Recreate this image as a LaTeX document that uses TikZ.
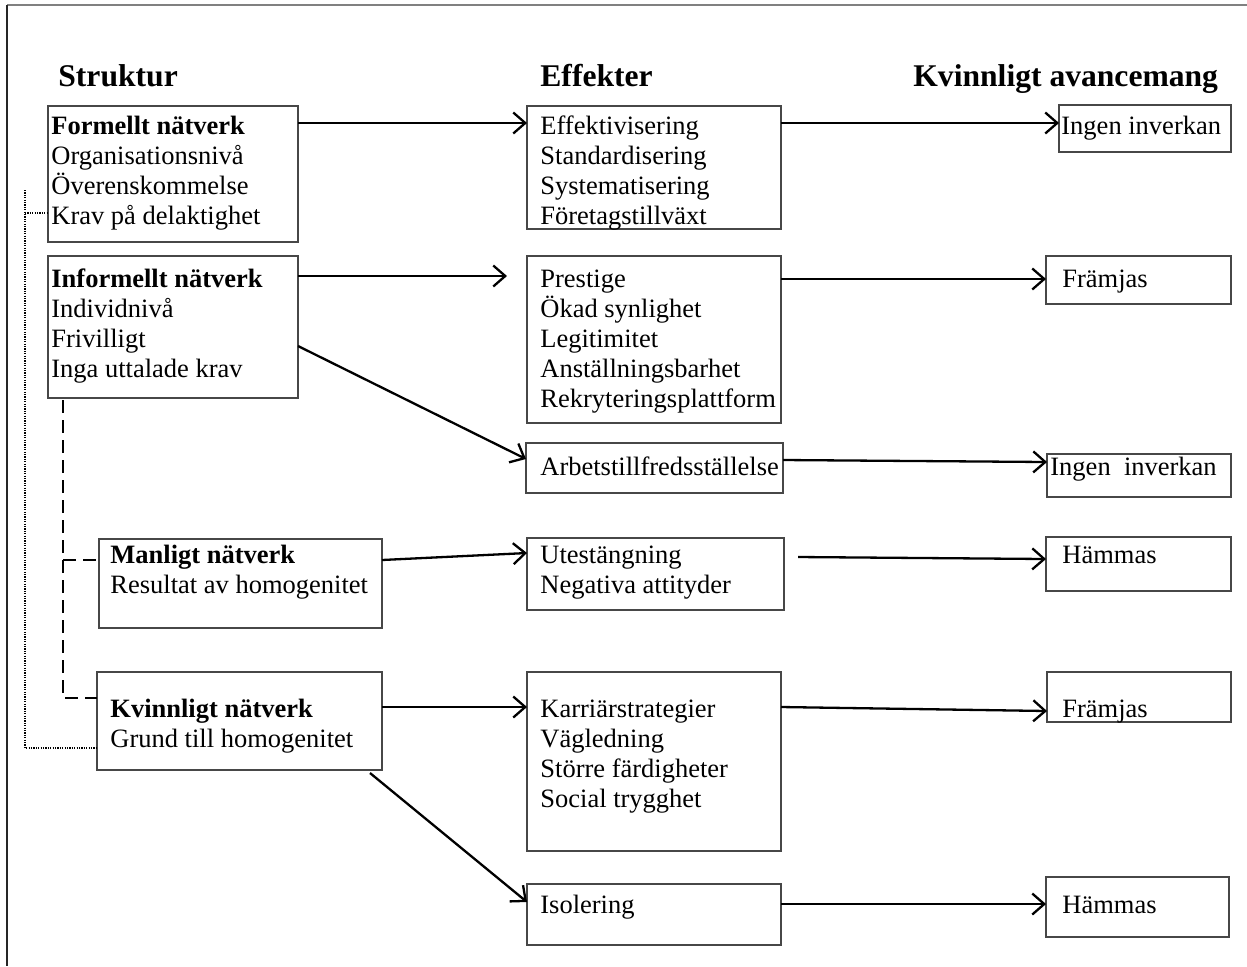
\documentclass[tikz,border=0pt]{standalone}
\usepackage{fontspec}
\setmainfont{Liberation Serif}
\usetikzlibrary{arrows.meta,fit,calc}

\begin{document}
\begin{tikzpicture}[x=0.5pt,y=-0.5pt,
  box/.style={draw=black!72, line width=0.65pt, inner sep=0pt, outer sep=0pt},
  txt/.style={inner sep=0pt, anchor=base west, font=\fontsize{13.25}{15}\selectfont},
  head/.style={inner sep=0pt, anchor=base west, font=\fontsize{15.8}{18}\selectfont\bfseries},
  arr/.style={line width=1.15pt, -{Straight Barb[length=6pt,width=10.5pt]}},
  dashlink/.style={line width=0.75pt, dash pattern=on 6.5pt off 3.5pt},
  dotlink/.style={line width=0.6pt, dash pattern=on 0.6pt off 0.6pt},
]
\useasboundingbox (0,0) rectangle (1247,966);

% open frame along the top and left
\draw[black!50, line width=0.8pt] (7,5) -- (1247,5);
\draw[black!85, line width=0.8pt] (7,5) -- (7,966);

% column headings
\node[head] (hStr) at (58,86) {Struktur};
\node[head] (hEff) at (540,86) {Effekter};
\node[head] (hKva) at (913,86) {Kvinnligt avancemang};

% structure boxes
\node[box, fit={(48,106) (298,242)}] (formellt) {};
\node[box, fit={(48,256) (298,398)}] (informellt) {};
\node[box, fit={(99,539) (382,628)}] (manligt) {};
\node[box, fit={(97,672) (382,770)}] (kvinnligt) {};

% effect boxes
\node[box, fit={(527,106) (781,229)}] (eff) {};
\node[box, fit={(527,256) (781,423)}] (prestige) {};
\node[box, fit={(526,443) (783,493)}] (arbets) {};
\node[box, fit={(527,538) (784,610)}] (utest) {};
\node[box, fit={(527,672) (781,851)}] (karriar) {};
\node[box, fit={(527,884) (781,945)}] (isolering) {};

% outcome boxes
\node[box, fit={(1059,105) (1231,152)}] (ingenA) {};
\node[box, fit={(1046,256) (1231,304)}] (framjasA) {};
\node[box, fit={(1047,454) (1231,497)}] (ingenB) {};
\node[box, fit={(1046,537) (1231,591)}] (hammasA) {};
\node[box, fit={(1047,672) (1231,722)}] (framjasB) {};
\node[box, fit={(1046,877) (1229,937)}] (hammasB) {};

% box texts
\node[txt] (tFormellt) at (51,134) {\begin{tabular}[t]{@{}l@{}}\textbf{Formellt nätverk}\\Organisationsnivå\\Överenskommelse\\Krav på delaktighet\end{tabular}};
\node[txt] (tInformellt) at (51,287) {\begin{tabular}[t]{@{}l@{}}\textbf{Informellt nätverk}\\Individnivå\\Frivilligt\\Inga uttalade krav\end{tabular}};
\node[txt] (tManligt) at (110,563) {\begin{tabular}[t]{@{}l@{}}\textbf{Manligt nätverk}\\Resultat av homogenitet\end{tabular}};
\node[txt] (tKvinnligt) at (110,717) {\begin{tabular}[t]{@{}l@{}}\textbf{Kvinnligt nätverk}\\Grund till homogenitet\end{tabular}};

\node[txt] (tEff) at (540,134) {\begin{tabular}[t]{@{}l@{}}Effektivisering\\Standardisering\\Systematisering\\Företagstillväxt\end{tabular}};
\node[txt] (tPrestige) at (540,287) {\begin{tabular}[t]{@{}l@{}}Prestige\\Ökad synlighet\\Legitimitet\\Anställningsbarhet\\Rekryteringsplattform\end{tabular}};
\node[txt] (tArbets) at (540,475) {Arbetstillfredsställelse};
\node[txt] (tUtest) at (540,563) {\begin{tabular}[t]{@{}l@{}}Utestängning\\Negativa attityder\end{tabular}};
\node[txt] (tKarriar) at (540,717) {\begin{tabular}[t]{@{}l@{}}Karriärstrategier\\Vägledning\\Större färdigheter\\Social trygghet\end{tabular}};
\node[txt] (tIsolering) at (540,913) {Isolering};

\node[txt] (tIngenA) at (1061,134) {Ingen inverkan};
\node[txt] (tFramjasA) at (1062,287) {Främjas};
\node[txt] (tIngenB) at (1050,475) {Ingen\ \ inverkan};
\node[txt] (tHammasA) at (1062,563) {Hämmas};
\node[txt] (tFramjasB) at (1062,717) {Främjas};
\node[txt] (tHammasB) at (1062,913) {Hämmas};

% free ends of two arrows
\coordinate (infTip) at (507,276);
\coordinate (utTail) at (798,557);

% arrows
\draw[arr] ($(formellt.north east)+(0,17)$) -- ($(eff.north west)+(0,17)$);
\draw[arr] ($(eff.north east)+(0,17)$) -- ($(ingenA.north west)+(0,18)$);
\draw[arr] ($(informellt.north east)+(0,20)$) -- (infTip);
\draw[arr] ($(prestige.north east)+(0,23)$) -- ($(framjasA.north west)+(0,23)$);
\draw[arr] ($(informellt.north east)+(0,90)$) -- ($(arbets.north west)+(0,16)$);
\draw[arr] ($(arbets.north east)+(0,17)$) -- ($(ingenB.north west)+(0,8)$);
\draw[arr] ($(manligt.north east)+(0,21)$) -- ($(utest.north west)+(0,15)$);
\draw[arr] (utTail) -- ($(hammasA.north west)+(0,22)$);
\draw[arr] ($(kvinnligt.north east)+(0,35)$) -- ($(karriar.north west)+(0,35)$);
\draw[arr] ($(karriar.north east)+(0,35)$) -- ($(framjasB.north west)+(0,39)$);
\draw[arr] ($(kvinnligt.south east)+(-12,3)$) -- ($(isolering.north west)+(0,18)$);
\draw[arr] ($(isolering.north east)+(0,20)$) -- ($(hammasB.north west)+(0,27)$);

% dashed links from the informal network
\draw[dashlink] ($(informellt.south west)+(15,2)$) -- ($(informellt.south west)+(15,300)$) -- ($(kvinnligt.north west)+(0,26)$);
\draw[dashlink] ($(informellt.south west)+(15,162)$) -- ($(manligt.north west)+(0,21)$);

% dotted link between formal and women's network
\coordinate (dotTop) at (25,190);
\coordinate (dotMid) at (25,213);
\coordinate (dotBot) at (25,748);
\draw[dotlink] (dotTop) -- (dotBot) -- (kvinnligt.west |- dotBot);
\draw[dotlink] (dotMid) -- (formellt.west |- dotMid);
\end{tikzpicture}
\end{document}
